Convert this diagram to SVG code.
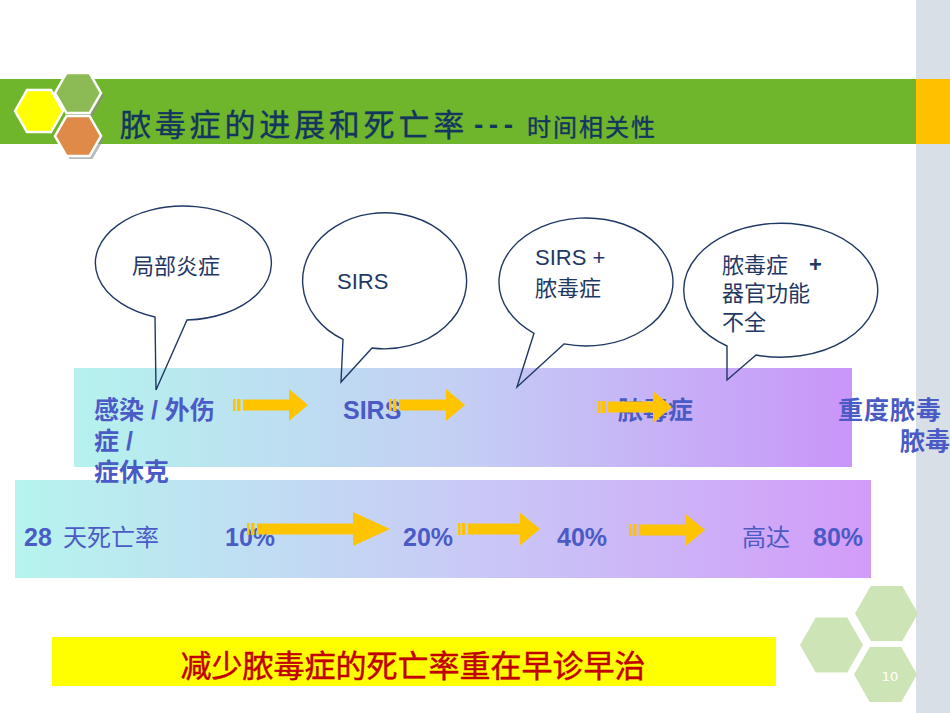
<svg xmlns="http://www.w3.org/2000/svg" width="950" height="713" viewBox="0 0 950 713">
<defs>
<style>
.cjk{font-family:"Liberation Sans","Noto Sans CJK SC",sans-serif}
.title{font-family:"Liberation Sans","Noto Sans CJK SC",sans-serif;fill:#13365E}
.call{fill:none;stroke:#1F3864;stroke-width:1.4;stroke-linejoin:miter}
.ctext{font-family:"Liberation Sans","Noto Sans CJK SC",sans-serif;font-size:22px;fill:#1F3864}
.band{font-family:"Liberation Sans","Noto Sans CJK SC",sans-serif;font-size:25px;fill:#4B5BC5;font-weight:bold}
.band2{font-family:"Liberation Sans","Noto Sans CJK SC",sans-serif;font-size:24px;fill:#4B5BC5}
.arrow{fill:#FFC400}
.hexs{fill:#CDE5B6}
</style>
<linearGradient id="g1" x1="0" y1="0" x2="1" y2="0">
<stop offset="0" stop-color="#B5F2EE"/>
<stop offset="0.5" stop-color="#C4CEF4"/>
<stop offset="1" stop-color="#C995F9"/>
</linearGradient>
<linearGradient id="g2" x1="0" y1="0" x2="1" y2="0">
<stop offset="0" stop-color="#B6F4EE"/>
<stop offset="0.5" stop-color="#C8CCF6"/>
<stop offset="1" stop-color="#D29CF9"/>
</linearGradient>
</defs>
<rect width="950" height="713" fill="#FFFFFF"/>
<!-- sidebar and header bar -->
<rect x="916" y="0" width="34" height="713" fill="#D8DFE6"/>
<rect x="916" y="79" width="34" height="65" fill="#FFC000"/>
<rect x="0" y="79" width="916" height="65" fill="#70B62C"/>
<!-- header hexagons -->
<g id="header-hexes">
<polygon points="58,96 69.5,76 92.5,76 104,96 92.5,116 69.5,116" fill="#8A8A8A" opacity="0.6"/>
<polygon points="58,139 69.5,119 92.5,119 104,139 92.5,159 69.5,159" fill="#8A8A8A" opacity="0.6"/>
<polygon points="15,111 27,90 51,90 63,111 51,132 27,132" fill="#FFFF00" stroke="#FFFFFF" stroke-width="2.5"/>
<polygon points="55,93 66.5,73 89.5,73 101,93 89.5,113 66.5,113" fill="#8CBB55" stroke="#FFFFFF" stroke-width="2.5"/>
<polygon points="55,136 66.5,116 89.5,116 101,136 89.5,156 66.5,156" fill="#E08A4A" stroke="#FFFFFF" stroke-width="2.5"/>
</g>
<g id="title">
<text x="120" y="136" class="title" font-size="31" letter-spacing="3.8" stroke="#13365E" stroke-width="0.4">脓毒症的进展和死亡率</text>
<text x="474" y="134" class="title" font-size="28" font-weight="bold" letter-spacing="5.5">---</text>
<text x="527" y="136" class="title" font-size="24" letter-spacing="2" stroke="#13365E" stroke-width="0.4">时间相关性</text>
</g>
<!-- bands -->
<rect x="74" y="368" width="778" height="99" fill="url(#g1)"/>
<rect x="15" y="480" width="856" height="98" fill="url(#g2)"/>
<!-- callouts -->
<g id="callout-1">
<path class="call" d="M155,317 A88,57 0 1 1 187,320 L156,390 Z"/>
<text x="132" y="274" class="ctext">局部炎症</text>
</g>
<g id="callout-2">
<path class="call" d="M343,339.4 A82,68 0 1 1 372,348 L341,382 Z"/>
<text x="337" y="289" class="ctext">SIRS</text>
</g>
<g id="callout-3">
<path class="call" d="M534,333.3 A87,64 0 1 1 564,343.9 L517,387 Z"/>
<text x="535" y="265" class="ctext">SIRS +</text>
<text x="535" y="296" class="ctext">脓毒症</text>
</g>
<g id="callout-4">
<path class="call" d="M727,346 A97,67 0 1 1 756,355 L727,380 Z"/>
<text x="722" y="273" class="ctext">脓毒症</text>
<text x="809" y="272" class="ctext" font-weight="bold">+</text>
<text x="722" y="301" class="ctext">器官功能</text>
<text x="722" y="330" class="ctext">不全</text>
</g>
<!-- band 1 texts -->
<g id="stage-1">
<text x="94" y="419" class="band">感染 / 外伤</text>
<text x="94" y="450" class="band">症 /</text>
<text x="94" y="481" class="band">症休克</text>
</g>
<g id="stage-2"><text x="343" y="419" class="band">SIRS</text></g>
<g id="stage-3"><text x="618" y="419" class="band">脓毒症</text></g>
<g id="stage-4">
<text x="838" y="419" class="band" letter-spacing="1">重度脓毒</text>
<text x="900" y="450" class="band" font-size="24">脓毒</text>
</g>
<!-- band 2 texts -->
<g id="mortality">
<text x="24" y="546" class="band">28</text>
<text x="63" y="546" class="band2">天死亡率</text>
<text x="225" y="546" class="band">10%</text>
<text x="403" y="546" class="band">20%</text>
<text x="557" y="546" class="band">40%</text>
<text x="742" y="546" class="band2">高达</text>
<text x="813" y="546" class="band">80%</text>
</g>
<!-- arrows -->
<g id="connectors">
<path class="arrow" d="M233,399h2.5v12h-2.5z M237,399h3.5v12h-3.5z M243,399.5h46v-10.5l19,16l-19,16v-10.5h-46z"/>
<path class="arrow" d="M389,399h2.5v12h-2.5z M393,399h3.5v12h-3.5z M399,399.5h47v-10.5l19,16l-19,16v-10.5h-47z"/>
<path class="arrow" d="M598,401h2.5v12h-2.5z M602,401h3.5v12h-3.5z M608,401.5h45v-10.5l19,16l-19,16v-10.5h-45z"/>
<path class="arrow" d="M247,523h2.5v12h-2.5z M251,523h3.5v12h-3.5z M257,523.5h96v-11.5l37,17l-37,17v-11.5h-96z"/>
<path class="arrow" d="M458,523h2.5v12h-2.5z M462,523h3.5v12h-3.5z M468,523.5h52v-11l20,16.5l-20,16.5v-11h-52z"/>
<path class="arrow" d="M629,524h2.5v12h-2.5z M633,524h3.5v12h-3.5z M639,524.5h46v-11l20,16.5l-20,16.5v-11h-46z"/>
</g>
<!-- conclusion -->
<g id="conclusion">
<rect x="52" y="637" width="724" height="49" fill="#FFFF00"/>
<text x="413" y="677" text-anchor="middle" class="cjk" font-size="31" fill="#C00000" stroke="#C00000" stroke-width="0.5">减少脓毒症的死亡率重在早诊早治</text>
</g>
<!-- footer hexagons -->
<g id="footer-hexes">
<polygon class="hexs" points="855,613.5 870.75,586 902.25,586 918,613.5 902.25,641 870.75,641"/>
<polygon class="hexs" points="800,645 815.75,617.5 847.25,617.5 863,645 847.25,672.5 815.75,672.5"/>
<polygon class="hexs" points="854,674.5 869.75,647 901.25,647 917,674.5 901.25,702 869.75,702"/>
<text x="890" y="681" text-anchor="middle" font-family="DejaVu Sans, sans-serif" font-size="13" fill="#FFFFFF">10</text>
</g>
</svg>
